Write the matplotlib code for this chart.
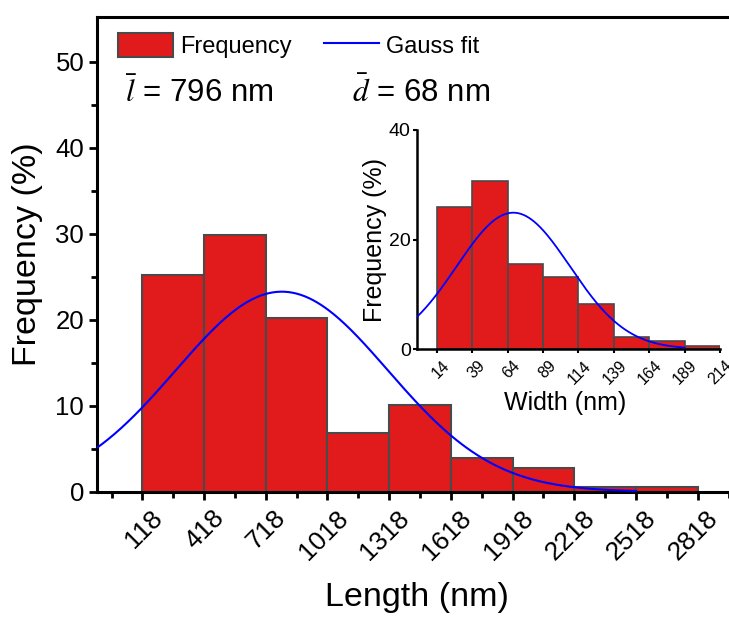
import numpy as np
import matplotlib
matplotlib.use("Agg")
import matplotlib.pyplot as plt
from matplotlib.transforms import ScaledTranslation

plt.rcParams['font.family'] = ['Liberation Sans', 'DejaVu Sans']
plt.rcParams['mathtext.fontset'] = 'stix'

# ---- length histogram (main panel) ----
length_edges = [118, 418, 718, 1018, 1318, 1618, 1918, 2218, 2518, 2818]
length_freq = [25.2, 29.8, 20.2, 6.8, 10.1, 3.9, 2.8, 0.55, 0.55]
length_ticks = [118, 418, 718, 1018, 1318, 1618, 1918, 2218, 2518, 2818]
# Gauss fit of the length distribution: peak height, centre, sigma
length_fit_amp, length_fit_xc, length_fit_sigma = 23.26, 796.0, 516.0
length_fit_range = (-104, 2518)

# ---- width histogram (inset) ----
width_edges = [14, 39, 64, 89, 114, 139, 164, 189, 214]
width_freq = [26.0, 30.7, 15.5, 13.2, 8.3, 2.2, 1.5, 0.6]
width_ticks = [14, 39, 64, 89, 114, 139, 164, 189, 214]
width_fit_amp, width_fit_xc, width_fit_sigma = 24.9, 68.0, 40.0
width_fit_range = (0, 189)

mean_length_label = r'$\bar{l}$ = 796 nm'
mean_width_label = r'$\bar{d}$ = 68 nm'

BAR_RED = '#E11A1C'
BAR_EDGE = '#4A4A4A'
FIT_BLUE = '#0000FF'


def gauss(x, amp, xc, sigma):
    return amp * np.exp(-(x - xc) ** 2 / (2 * sigma ** 2))


W, H = 729, 619
fig = plt.figure(figsize=(W / 100, H / 100), dpi=100)

# main axes placed in pixel terms
xlim_main = (-104, 3000)
px_per_unit = 61.7 / 300
ax_left, ax_bottom_px, ax_top_px = 96.7, 491.7, 17.0
ax_w = (xlim_main[1] - xlim_main[0]) * px_per_unit
ax = fig.add_axes([ax_left / W, 1 - ax_bottom_px / H, ax_w / W,
                   (ax_bottom_px - ax_top_px) / H])

le = np.array(length_edges)
bars = ax.bar(le[:-1], length_freq, width=np.diff(le), align='edge',
              color=BAR_RED, edgecolor=BAR_EDGE, linewidth=1.5,
              label='Frequency', zorder=2)
xf = np.linspace(*length_fit_range, 400)
line, = ax.plot(xf, gauss(xf, length_fit_amp, length_fit_xc, length_fit_sigma),
                color=FIT_BLUE, lw=1.5, label='Gauss fit', zorder=3)

ax.set_xlim(*xlim_main)
ax.set_ylim(0, 55.2)
ax.set_yticks([0, 10, 20, 30, 40, 50])
ax.set_yticks([5, 15, 25, 35, 45], minor=True)
ax.set_xticks(length_ticks)
minor_x = [t + 150 for t in length_ticks] + [length_ticks[0] - 150]
ax.set_xticks(minor_x, minor=True)
ax.set_xticklabels([])
for s in ['left', 'bottom', 'top', 'right']:
    ax.spines[s].set_linewidth(2.2)
ax.tick_params(axis='both', which='major', direction='out', length=6,
               width=2, labelsize=18.5, pad=3)
ax.tick_params(axis='both', which='minor', direction='out', length=4, width=2)

# rotated x tick labels
lab_tr = ax.get_xaxis_transform() + ScaledTranslation(0.08, -0.14,
                                                      fig.dpi_scale_trans)
for t in length_ticks:
    ax.text(t, 0, str(t), transform=lab_tr, rotation=45, ha='right',
            va='top', rotation_mode='anchor', fontsize=19)

ax.set_ylabel('Frequency (%)', fontsize=24.5, va='center')
ax.yaxis.set_label_coords(-0.109, 0.5)
ax.set_xlabel('Length (nm)', fontsize=24.5, va='top')
ax.xaxis.set_label_coords(0.5017, -0.190)

leg = fig.legend(handles=[bars, line], labels=['Frequency', 'Gauss fit'],
                 loc='center left', bbox_to_anchor=(118 / W, 1 - 45.5 / H),
                 ncol=2, frameon=False, fontsize=17, borderpad=0,
                 borderaxespad=0, handlelength=2.33, handleheight=1.15,
                 handletextpad=0.3, columnspacing=1.35)

fig.text(125 / W, 1 - 102 / H, mean_length_label, fontsize=22.5,
         va='baseline', ha='left')
fig.text(352 / W, 1 - 102 / H, mean_width_label, fontsize=22.5,
         va='baseline', ha='left')

# ---- inset ----
in_l, in_r, in_b, in_t = 417, 720, 349, 130
axi = fig.add_axes([in_l / W, 1 - in_b / H, (in_r - in_l) / W,
                    (in_b - in_t) / H])
we = np.array(width_edges)
axi.bar(we[:-1], width_freq, width=np.diff(we), align='edge', color=BAR_RED,
        edgecolor=BAR_EDGE, linewidth=1.2, zorder=2)
xw = np.linspace(*width_fit_range, 300)
axi.plot(xw, gauss(xw, width_fit_amp, width_fit_xc, width_fit_sigma),
         color=FIT_BLUE, lw=1.3, zorder=3)
axi.set_xlim(0, 214)
axi.set_ylim(0, 40)
axi.set_yticks([0, 20, 40])
axi.set_xticks(width_ticks)
axi.set_xticklabels([])
axi.patch.set_alpha(0)
for s in ['top', 'right']:
    axi.spines[s].set_visible(False)
for s in ['left', 'bottom']:
    axi.spines[s].set_linewidth(1.8)
axi.tick_params(axis='both', direction='out', length=3, width=1.5,
                labelsize=14, pad=1.5)
in_tr = axi.get_xaxis_transform() + ScaledTranslation(0.05, -0.09,
                                                      fig.dpi_scale_trans)
for t in width_ticks:
    axi.text(t, 0, str(t), transform=in_tr, rotation=45, ha='right',
             va='top', rotation_mode='anchor', fontsize=11.5, clip_on=False)
axi.set_ylabel('Frequency (%)', fontsize=18, va='center')
axi.yaxis.set_label_coords(-0.139, 0.5)
axi.set_xlabel('Width (nm)', fontsize=18, va='top')
axi.xaxis.set_label_coords(0.488, -0.19)

fig.savefig('out.png', dpi=100)
